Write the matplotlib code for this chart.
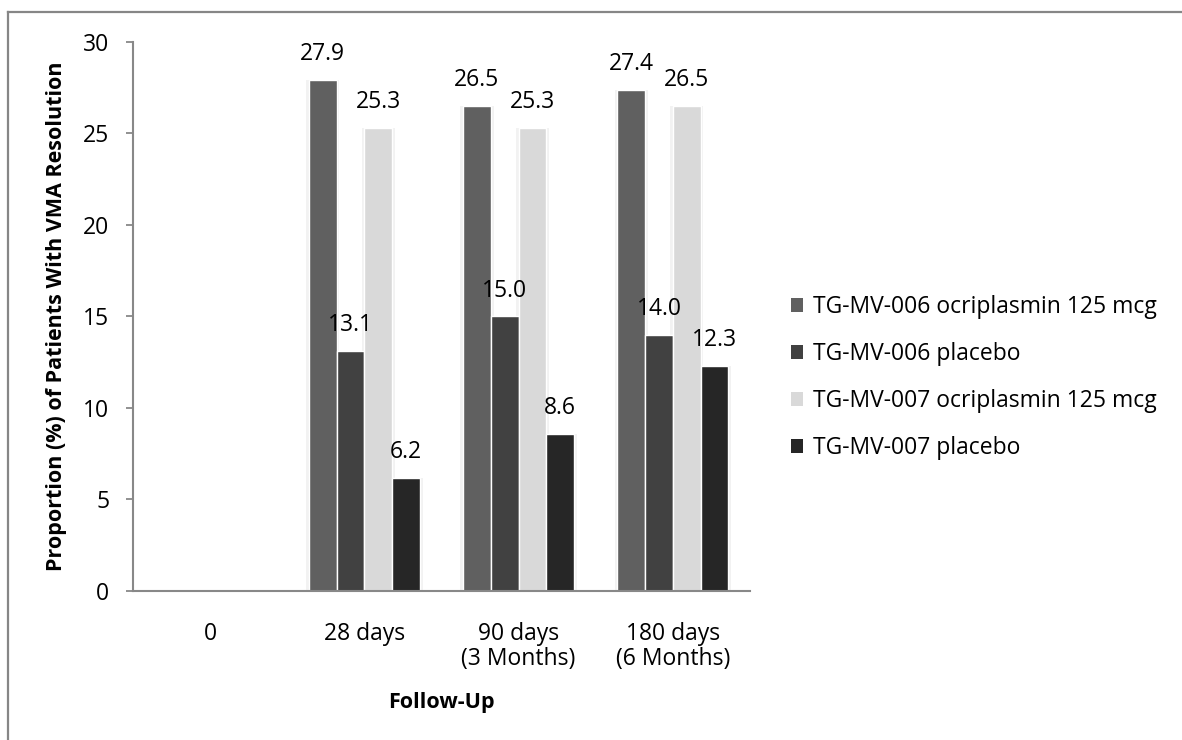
import matplotlib
matplotlib.use("Agg")
import matplotlib.pyplot as plt
from matplotlib.patches import Patch
from matplotlib.lines import Line2D
import numpy as np

plt.rcParams['font.family'] = ['Open Sans', 'DejaVu Sans']

categories = ["0", "28 days", "90 days\n(3 Months)", "180 days\n(6 Months)"]
series_names = [
    "TG-MV-006 ocriplasmin 125 mcg",
    "TG-MV-006 placebo",
    "TG-MV-007 ocriplasmin 125 mcg",
    "TG-MV-007 placebo",
]
mv006_ocriplasmin = [0.0, 27.9, 26.5, 27.4]
mv006_placebo = [0.0, 13.1, 15.0, 14.0]
mv007_ocriplasmin = [0.0, 25.3, 25.3, 26.5]
mv007_placebo = [0.0, 6.2, 8.6, 12.3]
series_values = [mv006_ocriplasmin, mv006_placebo, mv007_ocriplasmin, mv007_placebo]
series_colors = ["#606060", "#414141", "#d9d9d9", "#262626"]
y_ticks = [0, 5, 10, 15, 20, 25, 30]

FS = 16.5

fig = plt.figure(figsize=(11.82, 7.40), dpi=100)
ax = fig.add_axes([0.1125, 0.2014, 0.522, 0.7419])

x = np.arange(len(categories))
bar_w = 0.18
for i, (vals, col, name) in enumerate(zip(series_values, series_colors, series_names)):
    pos = x + (i - 1.5) * bar_w
    # soft shadow behind each bar
    ax.bar(pos, vals, width=bar_w + 0.035, color="#000000", alpha=0.05,
           linewidth=0, zorder=1)
    ax.bar(pos, vals, width=bar_w, color=col, edgecolor="white",
           linewidth=1.0, zorder=2, label=name)
    for p, v in zip(pos, vals):
        if v > 0:
            ax.annotate(f"{v:.1f}", (p, v), xytext=(0, 10),
                        textcoords="offset points", ha="center", va="bottom",
                        fontsize=FS, color="black", zorder=3)

ax.set_xlim(-0.5, len(categories) - 0.5)
ax.set_ylim(0, 30)
ax.set_yticks(y_ticks)
ax.set_xticks(x)
ax.set_xticklabels(categories, fontsize=FS, linespacing=1.1)
ax.tick_params(axis="x", length=0, pad=22)
ax.tick_params(axis="y", length=5, width=1.3, color="#888888", pad=12,
               labelsize=FS, direction="out")
for side in ["top", "right"]:
    ax.spines[side].set_visible(False)
for side in ["left", "bottom"]:
    ax.spines[side].set_color("#888888")
    ax.spines[side].set_linewidth(1.5)

ax.set_ylabel("Proportion (%) of Patients With VMA Resolution",
              fontsize=15.5, fontweight="bold")
ax.yaxis.set_label_coords(-76 / 617, 0.5)
ax.set_xlabel("Follow-Up", fontsize=15.5, fontweight="bold")
ax.xaxis.set_label_coords(0.5, -112 / 549)
ax.xaxis.label.set_va("center")
ax.yaxis.label.set_va("center")

handles = [Patch(facecolor=c, edgecolor="none") for c in series_colors]
fig.legend(handles, series_names, loc="center left",
           bbox_to_anchor=(0.669, 0.49), frameon=False, fontsize=FS,
           handlelength=0.55, handleheight=0.55, handletextpad=0.4,
           labelspacing=1.0, borderpad=0, borderaxespad=0)

# outer chart frame
fig.add_artist(Line2D([8 / 1182, 1.0], [1 - 12 / 740, 1 - 12 / 740],
                      color="#868686", linewidth=1.6, transform=fig.transFigure))
fig.add_artist(Line2D([8 / 1182, 8 / 1182], [0.0, 1 - 12 / 740],
                      color="#868686", linewidth=1.6, transform=fig.transFigure))

fig.savefig("out.png", dpi=100)
